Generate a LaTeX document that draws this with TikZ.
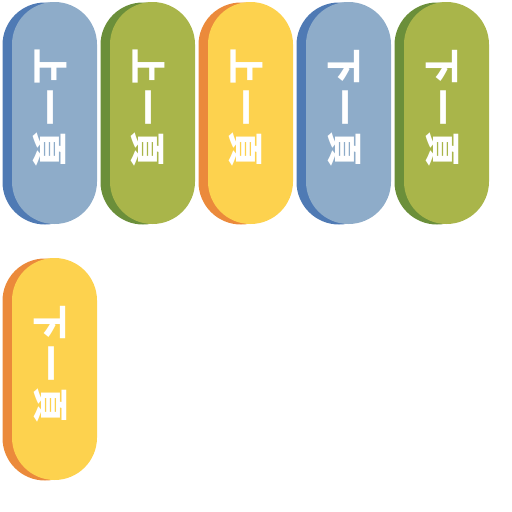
\documentclass[tikz,border=0pt]{standalone}
\usepackage{fontspec}
\newfontfamily\cjk{Noto Sans CJK TC}
\definecolor{blueM}{HTML}{8EACC9}
\definecolor{blueD}{HTML}{4F7AB4}
\definecolor{greenM}{HTML}{A9B54A}
\definecolor{greenD}{HTML}{6B8F3A}
\definecolor{yelM}{HTML}{FDD24E}
\definecolor{yelD}{HTML}{EB8A3B}
\newcommand{\spc}[3]{#1\hspace{6pt}#2\hspace{6pt}#3}
\tikzset{
  pill/.style={rectangle, rounded corners=42.5pt, minimum width=85pt, minimum height=222pt, inner sep=0pt, draw=none},
  pilltext/.style={text=white, font=\cjk\bfseries\fontsize{36}{36}\selectfont, rotate=-90, inner sep=0pt}
}
\begin{document}
\begin{tikzpicture}[x=1pt,y=-1pt]
\useasboundingbox (0,0) rectangle (512,512);
\foreach \i/\m/\d/\a in {0/blueM/blueD/上, 1/greenM/greenD/上, 2/yelM/yelD/上, 3/blueM/blueD/下, 4/greenM/greenD/下}{
  \node[pill, fill=\d] (s\i) at (45+98*\i,113.5) {};
  \node[pill, fill=\m] (p\i) at (54.5+98*\i,113) {};
  \node[pilltext] (t\i) at (50+98*\i,108) {\spc{\a}{一}{頁}};
}
\node[pill, fill=yelD] (s5) at (45,369.5) {};
\node[pill, fill=yelM] (p5) at (54.5,369) {};
\node[pilltext] (t5) at (50,364) {\spc{下}{一}{頁}};
\end{tikzpicture}
\end{document}
